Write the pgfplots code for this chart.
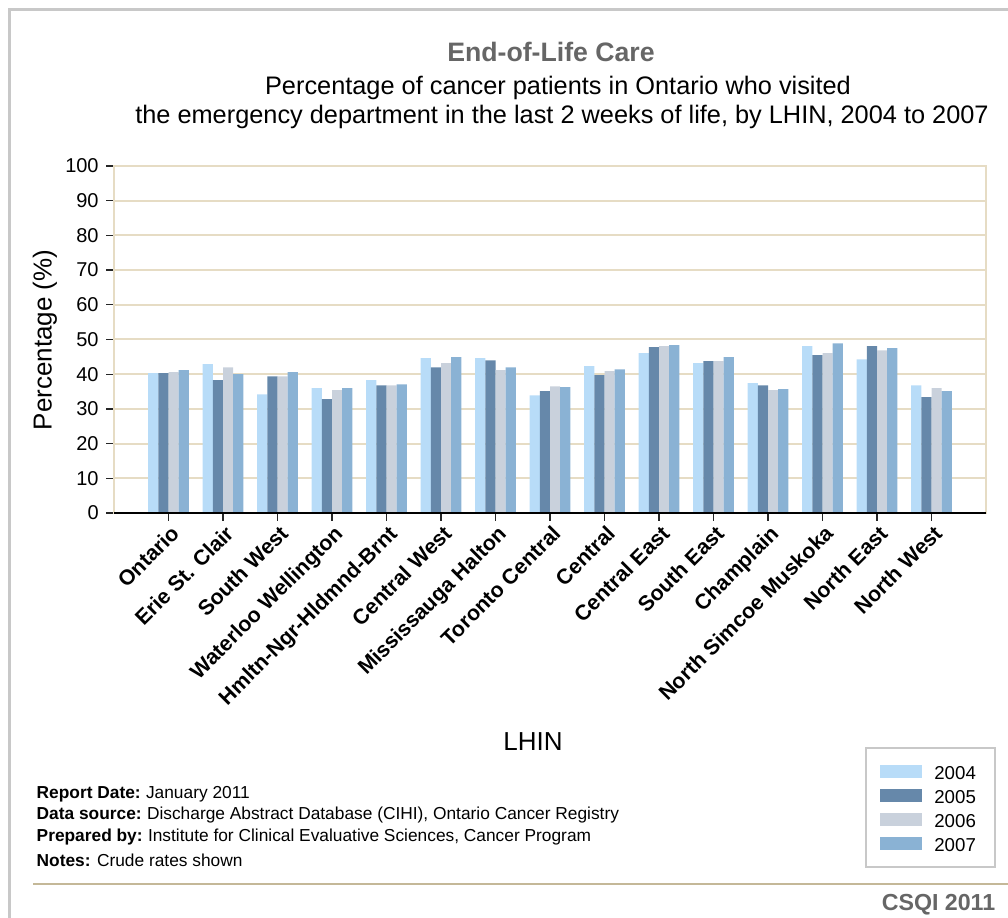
\documentclass[border=0pt]{standalone}
\usepackage{fontspec}
\setmainfont{Liberation Sans}
\usepackage{pgfplots}
\pgfplotsset{compat=1.18}
\usepackage{pgfplotstable}
\definecolor{c04}{HTML}{B8DCF8}
\definecolor{c05}{HTML}{6688AA}
\definecolor{c06}{HTML}{C9D1DC}
\definecolor{c07}{HTML}{8AB2D4}
\definecolor{gridc}{HTML}{E6DCC4}
\definecolor{framec}{HTML}{C8C8C8}
\definecolor{sepc}{HTML}{C4B898}
\definecolor{titlec}{HTML}{666666}

\pgfplotstableread{
x y04 y05 y06 y07
0 40.3 40.3 40.6 41.2
1 42.9 38.3 42.0 40.0
2 34.2 39.4 39.4 40.6
3 36.0 32.8 35.4 36.0
4 38.3 36.8 36.8 37.1
5 44.6 42.0 43.2 44.9
6 44.6 44.0 41.2 42.0
7 33.9 35.1 36.5 36.3
8 42.3 39.7 40.9 41.4
9 46.1 47.8 48.1 48.4
10 43.2 43.75 43.75 44.9
11 37.4 36.8 35.4 35.7
12 48.1 45.5 46.1 48.9
13 44.3 48.1 46.9 47.5
14 36.8 33.4 36.0 35.1
}\datatable

\begin{document}
\begin{tikzpicture}
\useasboundingbox (0,0) rectangle (756pt,688.5pt);
\begin{axis}[
  at={(85.5pt,303.75pt)}, anchor=south west,
  scale only axis, width=654pt, height=260.25pt,
  xmin=-1, xmax=15, ymin=0, ymax=100,
  ybar=0pt, bar width=0.1875,
  xtick={0,...,14},
  xticklabels={Ontario, Erie St. Clair, South West, Waterloo Wellington, Hmltn-Ngr-Hldmnd-Brnt, Central West, Mississauga Halton, Toronto Central, Central, Central East, South East, Champlain, North Simcoe Muskoka, North East, North West},
  xticklabel style={rotate=45, anchor=north east, font=\bfseries\fontsize{16}{16}\selectfont, inner sep=1pt, yshift=-1pt},
  ytick={0,10,...,100},
  yticklabel style={font=\fontsize{15}{15}\selectfont, xshift=-2pt},
  /pgf/number format/assume math mode=true,
  tick align=outside, xtick pos=left, ytick pos=left,
  major tick length=6pt,
  tick style={black!85, line width=1pt},
  ymajorgrids, grid style={gridc, line width=1.5pt},
  axis line style={gridc, line width=1.5pt},
  legend style={at={(1.0115,-0.674)}, anchor=north east, draw=framec, line width=1.5pt,
    font=\fontsize{14}{14}\selectfont, inner xsep=10.5pt, inner ysep=11pt, row sep=4.75pt,
    column sep=9pt,
    nodes={inner sep=0pt, text height=13pt, text depth=0.25pt, text width=35pt, align=left}},
  legend cell align=left,
  legend image code/.code={\fill[#1, draw=none] (0pt,-5pt) rectangle (32pt,5pt);},
  clip=false,
]
\addplot[fill=c04, draw=none] table[x=x, y=y04] {\datatable};
\addplot[fill=c05, draw=none] table[x=x, y=y05] {\datatable};
\addplot[fill=c06, draw=none] table[x=x, y=y06] {\datatable};
\addplot[fill=c07, draw=none] table[x=x, y=y07] {\datatable};
\legend{2004,2005,2006,2007}
\draw[black, line width=1.5pt] (rel axis cs:0,0) -- (rel axis cs:1,0);
\end{axis}
\begin{scope}[x=0.75pt, y=-0.75pt, yshift=688.5pt]
  \draw[framec, line width=2.25pt] (9,918) -- (9,10) -- (1008,10);
  \draw[sepc, line width=1.2pt] (33,884) -- (1008,884);
  \node[font=\bfseries\fontsize{20}{20}\selectfont, text=titlec] at (551,52) {End-of-Life Care};
  \node[font=\fontsize{19}{19}\selectfont] at (558,88) {Percentage of cancer patients in Ontario who visited};
  \node[font=\fontsize{19}{19}\selectfont] at (562,117) {the emergency department in the last 2 weeks of life, by LHIN, 2004 to 2007};
  \node[font=\fontsize{19.5}{19.5}\selectfont, rotate=90] at (45,340) {Percentage (\%)};
  \node[font=\fontsize{19.5}{19.5}\selectfont] at (533,742) {LHIN};
  \node[font=\fontsize{13}{13}\selectfont, anchor=west] at (32,794) {\textbf{Report Date:}\hspace{4pt}January 2011};
  \node[font=\fontsize{13}{13}\selectfont, anchor=west] at (32,815) {\textbf{Data source:}\hspace{4pt}Discharge Abstract Database (CIHI), Ontario Cancer Registry};
  \node[font=\fontsize{13}{13}\selectfont, anchor=west] at (32,837) {\textbf{Prepared by:}\hspace{4pt}Institute for Clinical Evaluative Sciences, Cancer Program};
  \node[font=\fontsize{13}{13}\selectfont, anchor=west] at (32,860) {\textbf{Notes:} Crude rates shown};
  \node[font=\bfseries\fontsize{17.4}{17.4}\selectfont, text=titlec, anchor=east] at (1000,905) {CSQI 2011};
\end{scope}
\end{tikzpicture}
\end{document}
